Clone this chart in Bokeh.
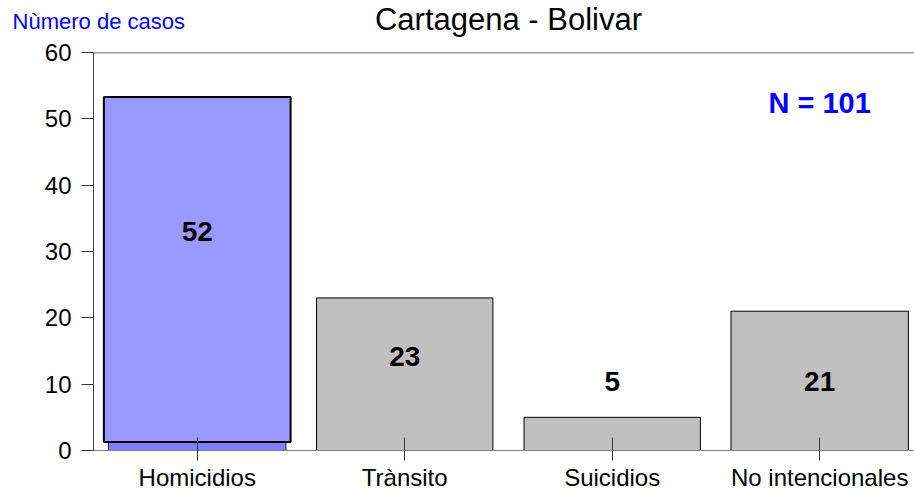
from bokeh.plotting import figure
from bokeh.models import Range1d, FixedTicker, Label, Span, ColumnDataSource
from bokeh.core.properties import value
from bokeh.embed import file_html
from bokeh.resources import INLINE

# ---- data ----
categories = ["Homicidios", "Trànsito", "Suicidios", "No intencionales"]
values = [52, 23, 5, 21]
y_ticks = [0, 10, 20, 30, 40, 50, 60]
total_label = "N = 101"
title_text = "Cartagena - Bolivar"
y_title = "Nùmero de casos"

# ---- styles / layout ----
bar_colors = ["#9999ff", "#c0c0c0", "#c0c0c0", "#c0c0c0"]
bar_widths = [0.9, 0.85, 0.85, 0.855]
explode = [1.3, 0, 0, 0]
label_y = [33.0, 14.2, 10.4, 10.4]
FONT = "Liberation Sans"

xs = list(range(len(categories)))
bottoms = list(explode)
tops = [v + e for v, e in zip(values, explode)]
y_top = y_ticks[-1]

p = figure(width=914, height=494, output_backend="svg", toolbar_location=None,
           x_range=Range1d(-0.5, 3.457), y_range=Range1d(0, y_top),
           min_border_left=93, min_border_right=0, min_border_top=52,
           min_border_bottom=44)
p.outline_line_color = None
p.grid.visible = False

# base strip of the exploded bar
ex_x = [x for x, e in zip(xs, explode) if e > 0]
ex_top = [e for e in explode if e > 0]
p.vbar(x=ex_x, bottom=0, top=ex_top, width=0.855, fill_color="#8080ff",
       line_color="#202060", line_width=1)

src = ColumnDataSource(dict(x=xs, bottom=bottoms, top=tops, color=bar_colors,
                            w=bar_widths, lw=[2, 1, 1, 1]))
p.vbar(x="x", bottom="bottom", top="top", width="w", fill_color="color",
       line_color="black", line_width="lw", source=src)

p.add_layout(Span(location=y_top, dimension="width", line_color="#333333",
                  line_width=1.5))

for x, v, ly in zip(xs, values, label_y):
    p.add_layout(Label(x=x, y=ly, text=str(v), text_align="center",
                       text_baseline="middle", text_font=FONT,
                       text_font_style="bold", text_font_size="28px",
                       text_color="black"))

p.add_layout(Label(x=3, y=52.4, text=total_label, text_align="center",
                   text_baseline="middle", text_font=FONT, text_font_style="bold",
                   text_font_size="29px", text_color="#0000ff"))

# chart title and y-axis title, drawn above the frame (overlay level, unclipped)
mid_x = (xs[0] + xs[-1]) / 2
p.text(x=[mid_x], y=[y_top - 0.05], text=[title_text], text_align="center",
       text_baseline="alphabetic", y_offset=-33, text_font=value(FONT),
       text_font_size="31px", text_color="black", level="overlay")
p.text(x=[xs[0] - 0.49], y=[y_top - 0.05], text=[y_title], text_align="left",
       text_baseline="alphabetic", x_offset=-83, y_offset=-31,
       text_font=value(FONT), text_font_size="22px", text_color="#0000ff",
       level="overlay")

xa = p.xaxis[0]
xa.ticker = FixedTicker(ticks=xs)
xa.major_label_overrides = {i: c for i, c in enumerate(categories)}
xa.major_label_text_font = FONT
xa.major_label_text_font_size = "24px"
xa.major_label_text_color = "black"
xa.major_tick_in = 13
xa.major_tick_out = 10
xa.minor_tick_line_color = None
xa.major_tick_line_color = "#333333"
xa.axis_line_color = "#808080"
xa.major_label_standoff = 3

ya = p.yaxis[0]
ya.ticker = FixedTicker(ticks=y_ticks)
ya.major_label_text_font = FONT
ya.major_label_text_font_size = "24px"
ya.major_label_text_color = "black"
ya.major_tick_in = 0
ya.major_tick_out = 12
ya.minor_tick_line_color = None
ya.major_tick_line_color = "#333333"
ya.axis_line_color = "#404040"
ya.major_label_standoff = 10

open("out.html", "w").write(file_html(p, INLINE))
